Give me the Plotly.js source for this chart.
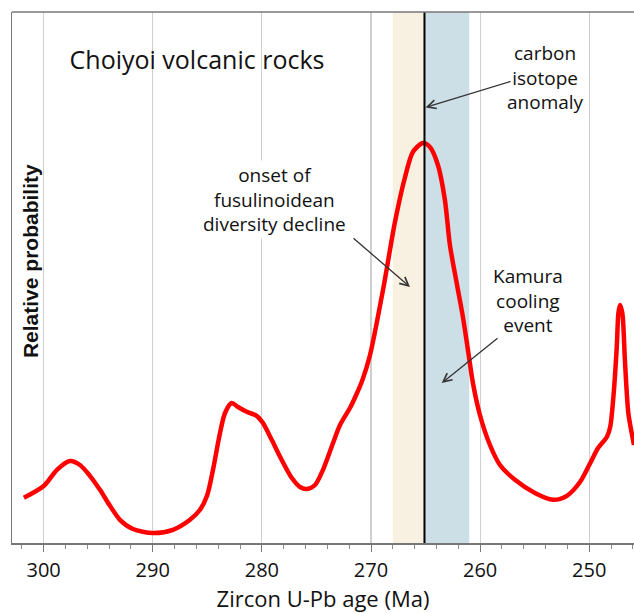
<!DOCTYPE html>
<html>
<head>
<meta charset="utf-8">
<script src="https://cdn.plot.ly/plotly-3.0.1.min.js"></script>
<style>html,body{margin:0;padding:0;background:#fff;overflow:hidden}#chart{width:634px;height:613px}</style>
</head>
<body>
<div id="chart"></div>
<script>
// Zircon U-Pb ages (Ma) and relative probability (peak = 1)
const ages = [301.81,299.97,298.78,297.59,296.67,295.76,294.84,293.92,293.01,291.82,289.98,288.15,286.59,285.67,285.03,284.48,283.84,283.38,282.77,282.19,281.39,280.48,279.90,279.10,278.19,277.27,276.51,275.89,275.13,274.40,273.48,272.84,271.92,271.28,270.82,270.09,268.90,267.80,266.88,266.15,265.24,264.60,263.87,263.23,262.77,262.15,261.58,261.12,260.66,260.02,259.10,258.18,256.81,254.98,253.33,252.05,250.83,249.91,249.18,248.39,248.08,247.81,247.48,247.33,247.18,246.97,246.72,246.42,246.11,245.90];
const probability = [0.113,0.143,0.183,0.205,0.195,0.168,0.133,0.093,0.058,0.035,0.025,0.033,0.058,0.083,0.118,0.183,0.275,0.325,0.350,0.340,0.328,0.318,0.300,0.258,0.208,0.163,0.140,0.135,0.145,0.183,0.250,0.295,0.338,0.375,0.405,0.470,0.633,0.803,0.915,0.978,1.000,0.990,0.945,0.858,0.745,0.650,0.565,0.483,0.400,0.320,0.245,0.195,0.158,0.125,0.108,0.118,0.153,0.200,0.238,0.265,0.290,0.358,0.490,0.575,0.595,0.575,0.450,0.325,0.275,0.245];

// Events (Ma)
const fusulinoideanBand = [268.0, 265.1];
const kamuraBand = [265.1, 261.0];
const carbonAnomalyAge = 265.1;

const xTickVals = [300, 290, 280, 270, 260, 250];
const xTickText = ['300', '290', '280', '270', '260', '250'];

const font = 'Open Sans, Noto Sans, sans-serif';

const trace = {
  x: ages, y: probability, type: 'scatter', mode: 'lines',
  line: {color: '#ff0000', width: 4.5, shape: 'spline', smoothing: 0.8},
  hoverinfo: 'x+y', showlegend: false
};

const layout = {
  width: 634, height: 613,
  margin: {l: 12, r: 0, t: 12, b: 70},
  paper_bgcolor: '#ffffff', plot_bgcolor: '#ffffff',
  showlegend: false,
  title: {text: 'Choiyoi volcanic rocks', font: {family: font, size: 25, color: '#111'},
          x: 197/634, xanchor: 'center', y: 1 - 60/613, yanchor: 'middle'},
  xaxis: {
    range: [302.9, 245.9], tickvals: xTickVals, ticktext: xTickText,
    ticks: 'outside', ticklen: 7, tickcolor: '#777', tickwidth: 1,
    minor: {dtick: 2, tick0: 300, ticks: 'outside', ticklen: 4, tickcolor: '#888', showgrid: false},
    showgrid: true, gridcolor: '#cfcfcf', gridwidth: 1.2,
    showline: true, linecolor: '#777', linewidth: 1.5, zeroline: false,
    tickfont: {family: font, size: 20, color: '#111'}, ticklabelstandoff: 1,
    title: {text: 'Zircon U-Pb age (Ma)', font: {family: font, size: 22, color: '#111'}, standoff: 15}
  },
  yaxis: {
    range: [0, 1.3275], showticklabels: false, ticks: '', showgrid: false, zeroline: false,
    showline: true, linecolor: '#777', linewidth: 1.5
  },
  shapes: [
    {type: 'rect', xref: 'x', yref: 'paper', x0: fusulinoideanBand[0], x1: fusulinoideanBand[1], y0: 0, y1: 1,
     fillcolor: '#f8f1e1', line: {width: 0}, layer: 'below'},
    {type: 'rect', xref: 'x', yref: 'paper', x0: kamuraBand[0], x1: kamuraBand[1], y0: 0, y1: 1,
     fillcolor: '#ccdee6', line: {width: 0}, layer: 'below'},
    {type: 'rect', xref: 'paper', yref: 'paper', x0: 0.09, x1: 0.53, y0: 0.868, y1: 0.947,
     fillcolor: '#ffffff', line: {width: 0}, layer: 'between'},
    {type: 'line', xref: 'x', yref: 'paper', x0: carbonAnomalyAge, x1: carbonAnomalyAge, y0: 0, y1: 1,
     line: {color: '#000', width: 2}},
    {type: 'line', xref: 'paper', yref: 'paper', x0: 0, x1: 1, y0: 1, y1: 1,
     line: {color: '#777', width: 1.5}}
  ],
  annotations: [
    {text: 'Relative probability', xref: 'paper', yref: 'paper', x: 0.029, y: 0.531,
     xanchor: 'center', yanchor: 'middle',
     textangle: -90, showarrow: false, font: {family: 'Liberation Sans, Arial, sans-serif', size: 21, color: '#111', weight: 'bold'}},
    {text: 'onset of<br>fusulinoidean<br>diversity decline', xref: 'x', yref: 'y', x: 278.8, y: 0.86,
     showarrow: false, bgcolor: '#ffffff', font: {family: font, size: 19, color: '#111'}},
    {text: 'carbon<br>isotope<br>anomaly', xref: 'x', yref: 'y', x: 254.05, y: 1.165,
     showarrow: false, font: {family: font, size: 19, color: '#111'}},
    {text: 'Kamura<br>cooling<br>event', xref: 'x', yref: 'y', x: 255.6, y: 0.6075,
     showarrow: false, font: {family: font, size: 19, color: '#111'}},
    {text: '', xref: 'x', yref: 'y', x: 265.0, y: 1.089, axref: 'x', ayref: 'y', ax: 257.08, ay: 1.155,
     showarrow: true, arrowhead: 5, arrowsize: 1.3, arrowwidth: 1.3, arrowcolor: '#333'},
    {text: '', xref: 'x', yref: 'y', x: 266.43, y: 0.64, axref: 'x', ayref: 'y', ax: 271.74, ay: 0.765,
     showarrow: true, arrowhead: 5, arrowsize: 1.3, arrowwidth: 1.3, arrowcolor: '#333'},
    {text: '', xref: 'x', yref: 'y', x: 263.52, y: 0.40, axref: 'x', ayref: 'y', ax: 258.27, ay: 0.515,
     showarrow: true, arrowhead: 5, arrowsize: 1.3, arrowwidth: 1.3, arrowcolor: '#333'}
  ]
};

Plotly.newPlot('chart', [trace], layout, {displayModeBar: false, staticPlot: true});
</script>
</body>
</html>
